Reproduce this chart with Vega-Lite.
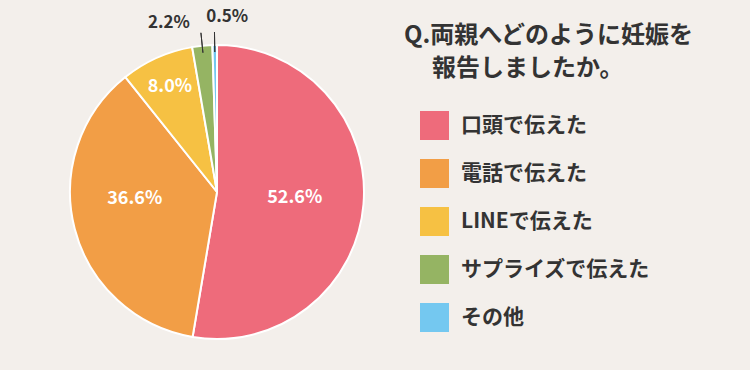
{
  "$schema": "https://vega.github.io/schema/vega-lite/v6.json",
  "width": 434,
  "height": 356,
  "autosize": "none",
  "padding": {"left": 0, "top": 14, "right": 316, "bottom": 0},
  "background": "#f3efeb",
  "config": {"view": {"stroke": null}, "font": "Noto Sans CJK JP"},
  "data": {
    "values": [
      {"category": "口頭で伝えた", "value": 52.6, "label": "52.6%"},
      {"category": "電話で伝えた", "value": 36.6, "label": "36.6%"},
      {"category": "LINEで伝えた", "value": 8.0, "label": "8.0%"},
      {"category": "サプライズで伝えた", "value": 2.2, "label": "2.2%"},
      {"category": "その他", "value": 0.5, "label": "0.5%"}
    ]
  },
  "encoding": {
    "theta": {"field": "value", "type": "quantitative", "stack": true},
    "order": {"field": "value", "type": "quantitative", "sort": "descending"}
  },
  "layer": [
    {
      "mark": {"type": "arc", "outerRadius": 147, "stroke": "white", "strokeWidth": 2},
      "encoding": {
        "color": {
          "field": "category",
          "type": "nominal",
          "scale": {
            "domain": ["口頭で伝えた", "電話で伝えた", "LINEで伝えた", "サプライズで伝えた", "その他"],
            "range": ["#ee6b7b", "#f29e46", "#f6c143", "#95b463", "#74c8f0"]
          },
          "legend": {
            "orient": "none",
            "legendX": 404,
            "legendY": 10,
            "title": ["Q.両親へどのように妊娠を", "\u200b　\u2006報告しましたか。"],
            "titleFontSize": 24,
            "titleFontWeight": "bold",
            "titleColor": "#333333",
            "titleLineHeight": 33,
            "titlePadding": 30,
            "titleLimit": 400,
            "symbolType": "square",
            "symbolSize": 841,
            "symbolStrokeWidth": 0,
            "symbolOffset": 16,
            "symbolOpacity": 1,
            "labelOffset": 12,
            "labelFontSize": 21,
            "labelFontWeight": "bold",
            "labelColor": "#333333",
            "labelLimit": 300,
            "rowPadding": 19
          }
        }
      }
    },
    {
      "mark": {"type": "arc", "radius": 160, "radius2": 140, "padAngle": 0.15, "filled": false, "stroke": "#333333", "strokeWidth": 1},
      "encoding": {
        "strokeOpacity": {"condition": {"test": "datum.value < 3", "value": 1}, "value": 0}
      }
    },
    {
      "mark": {"type": "text", "radius": 78, "fontSize": 18, "fontWeight": "bold", "fill": "white"},
      "encoding": {
        "text": {"condition": {"test": "datum.category === '口頭で伝えた'", "field": "label", "type": "nominal"}, "value": ""}
      }
    },
    {
      "mark": {"type": "text", "radius": 85, "dy": -14, "fontSize": 18, "fontWeight": "bold", "fill": "white"},
      "encoding": {
        "text": {"condition": {"test": "datum.category === '電話で伝えた'", "field": "label", "type": "nominal"}, "value": ""}
      }
    },
    {
      "mark": {"type": "text", "radius": 115, "fontSize": 18, "fontWeight": "bold", "fill": "white"},
      "encoding": {
        "text": {"condition": {"test": "datum.category === 'LINEで伝えた'", "field": "label", "type": "nominal"}, "value": ""}
      }
    },
    {
      "mark": {"type": "text", "radius": 170, "dx": -31, "fontSize": 17, "fontWeight": "bold", "fill": "#333333"},
      "encoding": {
        "text": {"condition": {"test": "datum.category === 'サプライズで伝えた'", "field": "label", "type": "nominal"}, "value": ""}
      }
    },
    {
      "mark": {"type": "text", "radius": 175, "dx": 13, "fontSize": 17, "fontWeight": "bold", "fill": "#333333"},
      "encoding": {
        "text": {"condition": {"test": "datum.category === 'その他'", "field": "label", "type": "nominal"}, "value": ""}
      }
    }
  ]
}
